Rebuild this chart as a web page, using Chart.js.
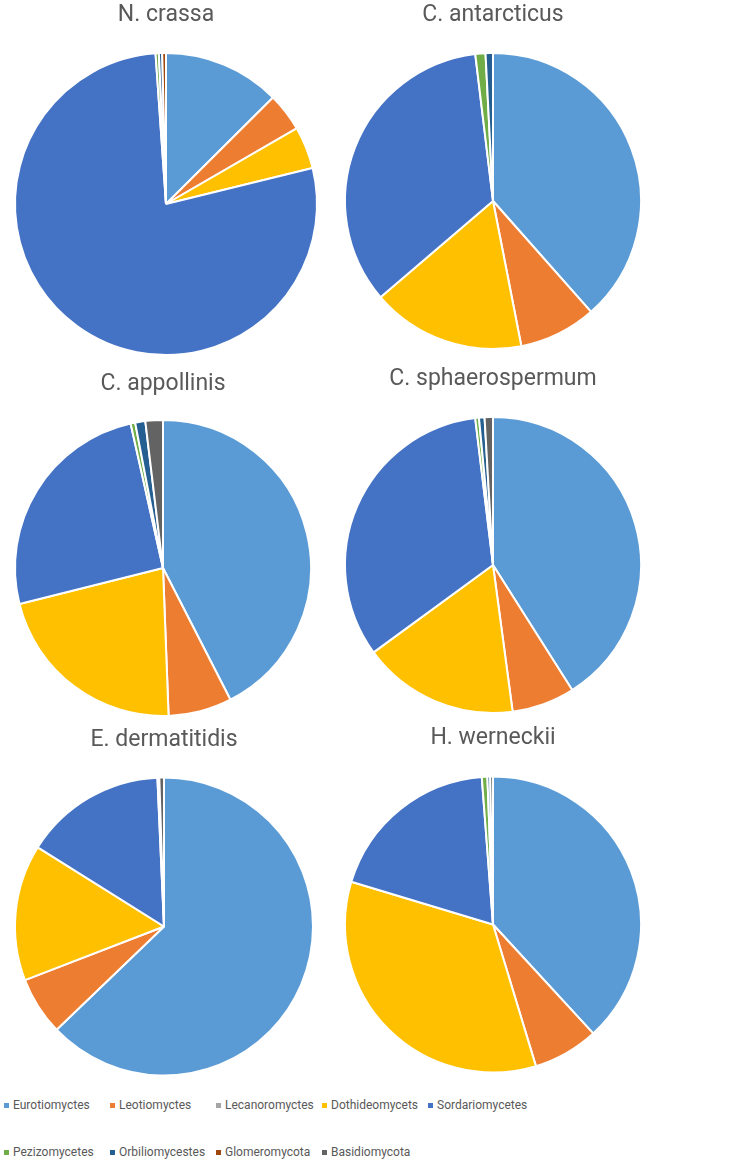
<!DOCTYPE html>
<html>
<head>
<meta charset="utf-8">
<script src="https://cdn.jsdelivr.net/npm/chart.js@4.4.1/dist/chart.umd.min.js"></script>
<style>
  html, body { margin: 0; padding: 0; background: #ffffff; }
  body { width: 749px; height: 1165px; position: relative; overflow: hidden; font-family: Roboto, "Open Sans", sans-serif; }
  canvas { position: absolute; }
  #legend { position: absolute; left: 4px; top: 1098px; display: grid; grid-template-columns: repeat(5, 106px); row-gap: 33px; }
  .item { height: 14px; line-height: 14px; font-size: 12px; color: #595959; white-space: nowrap; display: flex; align-items: center; }
  .sw { width: 5px; height: 5px; margin-right: 4px; flex: 0 0 auto; }
</style>
</head>
<body>
<div id="legend"></div>
<script>
// ---- data ----
const categories = ["Eurotiomyctes", "Leotiomyctes", "Lecanoromyctes", "Dothideomycets", "Sordariomycetes",
                    "Pezizomycetes", "Orbiliomycestes", "Glomeromycota", "Basidiomycota"];
const seriesColors = ["#5B9BD5", "#ED7D31", "#A5A5A5", "#FFC000", "#4472C4", "#70AD47", "#255E91", "#9E480E", "#636363"];
const speciesTitles = ["N. crassa", "C. antarcticus", "C. appollinis", "C. sphaerospermum", "E. dermatitidis", "H. werneckii"];

const nCrassa          = [12.5, 4.1, 0, 4.5, 77.5, 0.35, 0.35, 0.4, 0];
const cAntarcticus     = [38.2, 8.4, 0, 16.7, 34.1, 1.1, 0.8, 0, 0];
const cAppollinis      = [42.3, 6.9, 0, 21.6, 25.3, 0.5, 1.1, 0, 1.9];
const cSphaerospermum  = [40.6, 6.8, 0, 16.9, 32.8, 0.4, 0.6, 0, 0.9];
const eDermatitidis    = [62.5, 6.3, 0, 14.7, 15.3, 0, 0.2, 0, 0.5];
const hWerneckii       = [37.9, 7.1, 0, 34.1, 19.0, 0.6, 0.3, 0, 0.3];

const speciesData = [nCrassa, cAntarcticus, cAppollinis, cSphaerospermum, eDermatitidis, hWerneckii];

// ---- layout (pie centre x, centre y, radius, title y) ----
const layout = [
  { cx: 166,   cy: 204,   r: 151, ty: 15 },
  { cx: 493,   cy: 201,   r: 148, ty: 15 },
  { cx: 163,   cy: 568,   r: 148, ty: 384 },
  { cx: 492.5, cy: 565,   r: 148, ty: 379 },
  { cx: 164,   cy: 926.5, r: 149, ty: 740 },
  { cx: 492.5, cy: 924.5, r: 148, ty: 738 }
];

const TITLE_SIZE = 23;
const TITLE_LH = 1.2;
const textColor = "#595959";

speciesData.forEach((values, i) => {
  const L = layout[i];
  const lh = TITLE_SIZE * TITLE_LH;
  const top = Math.round(L.ty - lh / 2);
  const bottom = Math.round(L.cy + L.r + 5);
  const W = Math.round(2 * L.r + 12);
  const left = Math.round(L.cx - W / 2);
  const block = 2 * L.cy - bottom - top;
  const padBottom = block - lh;

  const cv = document.createElement("canvas");
  cv.width = W;
  cv.height = bottom - top;
  cv.style.left = left + "px";
  cv.style.top = top + "px";
  cv.style.width = W + "px";
  cv.style.height = (bottom - top) + "px";
  document.body.appendChild(cv);

  new Chart(cv, {
    type: "pie",
    data: {
      labels: categories,
      datasets: [{
        data: values,
        backgroundColor: seriesColors,
        borderColor: "#ffffff",
        borderWidth: 2,
        hoverOffset: 0,
        radius: L.r
      }]
    },
    options: {
      responsive: false,
      animation: false,
      layout: { padding: 0 },
      plugins: {
        legend: { display: false },
        tooltip: { enabled: false },
        title: {
          display: true,
          text: speciesTitles[i],
          color: textColor,
          font: { family: "Roboto", size: TITLE_SIZE, weight: "normal", lineHeight: TITLE_LH },
          padding: { top: 0, bottom: padBottom }
        }
      }
    }
  });
});

// ---- shared legend ----
const legend = document.getElementById("legend");
categories.forEach((name, i) => {
  const it = document.createElement("div");
  it.className = "item";
  const sw = document.createElement("span");
  sw.className = "sw";
  sw.style.background = seriesColors[i];
  const tx = document.createElement("span");
  tx.textContent = name;
  it.appendChild(sw);
  it.appendChild(tx);
  legend.appendChild(it);
});
</script>
</body>
</html>
